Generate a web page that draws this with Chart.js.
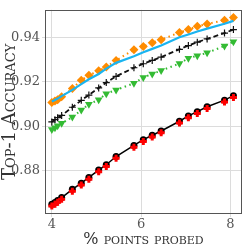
<!DOCTYPE html>
<html><head><meta charset="utf-8">
<script src="https://cdn.jsdelivr.net/npm/chart.js@4/dist/chart.umd.min.js"></script>
<style>html,body{margin:0;padding:0;background:#fff}#w{width:249px;height:249px}</style>
</head><body><div id="w"><canvas id="c" width="249" height="249"></canvas></div>
<script>
const pctProbed = [4.00,4.07,4.13,4.22,4.46,4.66,4.83,5.05,5.22,5.44,5.84,6.05,6.25,6.45,6.86,7.06,7.26,7.48,7.87,8.07];
const orangeDiamond = [0.9107,0.9114,0.9120,0.9133,0.9170,0.9208,0.9230,0.9250,0.9267,0.9297,0.9345,0.9360,0.9377,0.9390,0.9423,0.9436,0.9451,0.9461,0.9478,0.9490];
const cyanLine = [0.9112,0.9119,0.9125,0.9136,0.9164,0.9190,0.9212,0.9236,0.9260,0.9286,0.9316,0.9334,0.9349,0.9364,0.9401,0.9414,0.9427,0.9440,0.9462,0.9475];
const blackPlus = [0.9020,0.9030,0.9039,0.9049,0.9086,0.9117,0.9141,0.9173,0.9197,0.9225,0.9264,0.9282,0.9297,0.9312,0.9347,0.9364,0.9379,0.9394,0.9420,0.9436];
const greenTri = [0.8986,0.8994,0.9003,0.9014,0.9042,0.9073,0.9099,0.9120,0.9147,0.9164,0.9194,0.9220,0.9236,0.9251,0.9283,0.9307,0.9318,0.9331,0.9362,0.9381];
const blackCircle = [0.8649,0.8657,0.8666,0.8679,0.8716,0.8744,0.8770,0.8803,0.8827,0.8864,0.8914,0.8940,0.8960,0.8979,0.9023,0.9047,0.9066,0.9088,0.9118,0.9138];
const redPlus = [0.8641,0.8649,0.8658,0.8671,0.8708,0.8736,0.8762,0.8795,0.8819,0.8856,0.8906,0.8932,0.8952,0.8971,0.9015,0.9039,0.9058,0.9080,0.9110,0.9130];
const xTicks = [4,6,8];
const yTicks = [0.88,0.90,0.92,0.94];

const pts = ys => pctProbed.map((x,i)=>({x:x,y:ys[i]}));
const FONT = "'DejaVu Serif', serif";

const frame = {
  id:'frame',
  afterDraw(chart){
    const a = chart.chartArea, ctx = chart.ctx;
    ctx.save();
    ctx.strokeStyle = '#555';
    ctx.lineWidth = 1;
    ctx.strokeRect(Math.round(a.left)+0.5, Math.round(a.top)+0.5, Math.round(a.right-a.left)-1, Math.round(a.bottom-a.top)-1);
    ctx.restore();
  }
};

new Chart(document.getElementById('c'), {
  type:'scatter',
  data:{datasets:[
    {data:pts(redPlus), showLine:false, pointStyle:'cross', radius:3.5, borderWidth:3, borderColor:'#ff0000', backgroundColor:'#ff0000', order:1},
    {data:pts(blackCircle), showLine:true, borderColor:'#000', borderWidth:1.5, pointStyle:'circle', radius:3.5, backgroundColor:'#000', pointBorderWidth:0, order:2},
    {data:pts(greenTri), showLine:true, borderColor:'#33bb33', borderWidth:2, borderDash:[1.5,3.5], pointStyle:'triangle', rotation:180, radius:4.5, backgroundColor:'#33bb33', pointBorderWidth:0, order:5},
    {data:pts(blackPlus), showLine:true, borderColor:'#111', borderWidth:1.8, borderDash:[5,3], pointStyle:'cross', radius:3.5, pointBorderWidth:1.2, pointBorderColor:'#111', order:4},
    {data:pts(cyanLine), showLine:true, borderColor:'#1ab4f0', borderWidth:2.2, radius:0, order:3},
    {data:pts(orangeDiamond), showLine:true, borderColor:'#ff8c00', borderWidth:2, borderDash:[1.5,3.5], pointStyle:'rectRot', radius:4.5, backgroundColor:'#ff8c00', pointBorderWidth:0, order:6}
  ]},
  options:{
    responsive:false, animation:false, devicePixelRatio:1,
    layout:{padding:{top:2,right:2,left:0,bottom:0}},
    plugins:{legend:{display:false}, tooltip:{enabled:false}},
    scales:{
      x:{type:'linear', min:3.847, max:8.262,
        afterBuildTicks(s){s.ticks = xTicks.map(v=>({value:v}));},
        afterFit(s){s.height = 35;},
        ticks:{color:'#555', font:{family:FONT,size:13}, padding:0, callback:v=>String(v), maxRotation:0},
        grid:{color:'#dcdcdc', lineWidth:1, tickLength:3, drawTicks:true},
        border:{display:false},
        title:{display:true, text:'% points probed', color:'#333', font:{family:FONT,size:16,weight:'small-caps'}, padding:{top:0,bottom:0}}
      },
      y:{type:'linear', min:0.8605, max:0.9525,
        afterBuildTicks(s){s.ticks = yTicks.map(v=>({value:v}));},
        afterFit(s){s.width = 45;},
        ticks:{color:'#555', font:{family:FONT,size:13}, padding:2, callback:v=>v.toFixed(2)},
        grid:{color:'#dcdcdc', lineWidth:1, tickLength:3, drawTicks:true},
        border:{display:false},
        title:{display:true, text:'Top-1 Accuracy', color:'#333', font:{family:FONT,size:18,weight:'small-caps'}, padding:{top:0,bottom:0}}
      }
    }
  },
  plugins:[frame]
});
</script></body></html>
